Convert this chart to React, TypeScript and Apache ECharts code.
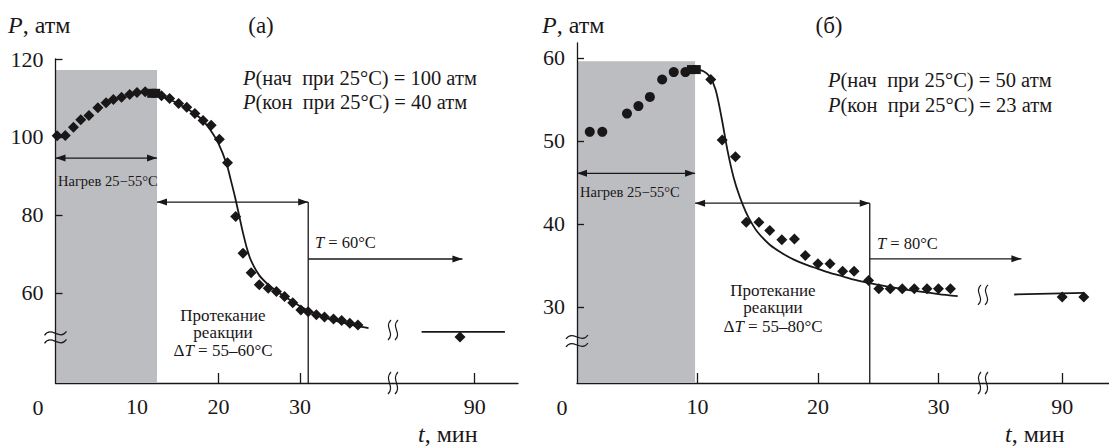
import React, { useEffect, useRef } from 'react';
import * as echarts from 'echarts';

const FONT = 'Liberation Serif';
const INK = '#1a1718';
const GRAY = '#bcbdc1';

// ---------- Panel (а): P(nach) = 100 атм, T = 60°C ----------
const aHeatT = [0.2, 1.2, 2.2, 3.1, 4.1, 5.2, 6.2, 7.1, 8.1, 9.1, 10.0, 11.0];
const aHeatP = [100.3, 100.4, 102.5, 104.4, 105.5, 107.5, 108.8, 109.6, 110.2, 110.9, 111.4, 111.6];
const aSquareT = [11.8, 12.3];
const aSquareP = [111.2, 111.2];
const aReactT = [13.0, 14.0, 15.1, 16.1, 17.1, 18.1, 19.1, 20.1, 21.1, 22.1, 23.0, 24.0, 25.0, 26.1, 27.1, 28.1, 29.1, 30.1, 31.0, 32.0, 33.0, 34.1, 35.1, 36.1, 37.1];
const aReactP = [110.6, 109.9, 108.6, 107.6, 106.0, 104.2, 103.0, 99.4, 93.4, 79.6, 70.2, 65.2, 62.1, 61.2, 60.4, 59.1, 57.5, 55.6, 55.2, 54.4, 53.8, 53.3, 52.9, 52.2, 51.8];
const aLateT = [88.2];
const aLateP = [48.7];
const aFitT = [12, 13, 14, 15, 16, 17, 18, 19, 20, 21, 21.5, 22, 22.5, 23, 23.5, 24, 25, 26, 27, 28, 29, 30, 31, 32, 33, 34, 35, 36, 37, 38.4];
const aFitP = [111.2, 110.5, 109.6, 108.6, 107.4, 106.1, 104.4, 101.8, 98.3, 93.0, 89.0, 84.8, 80.1, 75.4, 71.3, 68.2, 64.5, 62.3, 60.6, 59.2, 57.9, 56.6, 55.5, 54.6, 53.8, 53.1, 52.5, 52.0, 51.5, 51.0];
const aFitLateT = [83.5, 93.7];
const aFitLateP = [50.0, 50.0];
const aYTicks = [60, 80, 100, 120];
const aXTicks = [10, 20, 30];
const aXTicks2 = [90];
const aHeatEnd = 12.45;
const aHeatTop = 117.2;
const aReactEnd = 31.0;
const aHeatArrowP = 94.6;
const aReactArrowP = 83.3;
const aTArrowP = 68.7;
const aTArrowEndT = 88.5;
const aYBreakP = 48.6;
const aDataBreakP = 50.5;

// ---------- Panel (б): P(nach) = 50 атм, T = 80°C ----------
const bHeatT = [1.06, 2.1, 4.15, 5.1, 6.05, 7.07, 8.03, 9.0];
const bHeatP = [51.1, 51.1, 53.3, 54.2, 55.3, 57.4, 58.3, 58.3];
const bSquareT = [9.5, 9.9];
const bSquareP = [58.6, 58.6];
const bReactT = [11.1, 12.05, 13.15, 14.05, 15.1, 16.0, 17.0, 18.05, 18.95, 20.0, 21.0, 22.05, 23.0, 24.2, 25.05, 26.0, 27.0, 28.0, 29.05, 30.0, 31.0];
const bReactP = [57.4, 50.1, 48.1, 40.2, 40.2, 39.2, 38.1, 38.2, 36.2, 35.2, 35.2, 34.3, 34.3, 33.2, 32.2, 32.2, 32.2, 32.2, 32.2, 32.2, 32.2];
const bLateT = [90.0, 91.8];
const bLateP = [31.2, 31.2];
const bFitT = [10, 10.5, 11, 11.5, 12, 12.5, 13, 13.5, 14, 14.5, 15, 16, 17, 18, 19, 20, 21, 22, 23, 24, 25, 26, 27, 28, 29, 30, 31.6];
const bFitP = [58.6, 58.4, 57.8, 56.2, 52.8, 48.8, 45.6, 43.3, 41.5, 40.1, 39.0, 37.5, 36.5, 35.7, 35.1, 34.6, 34.1, 33.7, 33.3, 32.95, 32.65, 32.4, 32.15, 31.95, 31.75, 31.55, 31.3];
const bFitLateT = [86.0, 91.8];
const bFitLateP = [31.5, 31.7];
const bYTicks = [30, 40, 50, 60];
const bXTicks = [10, 20, 30];
const bXTicks2 = [90];
const bHeatEnd = 9.8;
const bHeatTop = 59.6;
const bReactEnd = 24.3;
const bHeatArrowP = 46.1;
const bReactArrowP = 42.5;
const bTArrowP = 35.8;
const bTArrowEndT = 86.6;
const bYBreakP = 25.9;
const bDataBreakP = 31.45;

// axis ranges
const aYMin = 36.9, aYMax = 120;
const bYMin = 20.84, bYMax = 61.8;

const zip = (t: number[], p: number[]) => t.map((v, i) => [v, p[i]]);

export default function App() {
  const ref = useRef<HTMLDivElement>(null);
  useEffect(() => {
    const chart = echarts.init(ref.current!, null, { renderer: 'svg' });
    const xAxis = (grid: number, min: number, max: number, ticks: number[]) => ({
      type: 'value', gridIndex: grid, min, max,
      axisLine: { show: true, lineStyle: { color: INK, width: 1.3 } },
      axisTick: { show: true, inside: true, length: 10, lineStyle: { color: INK, width: 1.3 }, customValues: ticks },
      axisLabel: { fontFamily: FONT, fontSize: 22, color: INK, margin: 12, customValues: ticks },
      splitLine: { show: false },
    });
    const yAxis = (grid: number, min: number, max: number, ticks: number[], show: boolean) => ({
      type: 'value', gridIndex: grid, min, max, show, z: 5,
      axisLine: { show: true, lineStyle: { color: INK, width: 1.3 } },
      axisTick: { show: true, inside: true, length: 7, lineStyle: { color: INK, width: 1.3 }, customValues: ticks },
      axisLabel: { fontFamily: FONT, fontSize: 22, color: INK, margin: 12, customValues: ticks },
      splitLine: { show: false },
    });
    const scatter = (xi: number, data: number[][], symbol: string, size: number) => ({
      type: 'scatter', xAxisIndex: xi, yAxisIndex: xi, data, symbol, symbolSize: size,
      itemStyle: { color: INK, opacity: 1 }, z: 4, silent: true,
    });
    const fit = (xi: number, data: number[][]) => ({
      type: 'line', xAxisIndex: xi, yAxisIndex: xi, data, showSymbol: false, symbol: 'none',
      smooth: 0.3, lineStyle: { color: INK, width: 1.8 }, z: 3, silent: true,
    });
    const area = (xi: number, x0: number, y0: number, x1: number, y1: number) => ({
      type: 'line', xAxisIndex: xi, yAxisIndex: xi, data: [], z: 1, silent: true,
      markArea: { silent: true, itemStyle: { color: GRAY, opacity: 1 }, data: [[{ coord: [x0, y0] }, { coord: [x1, y1] }]] },
    });

    chart.setOption({
      animation: false,
      grid: [
        { left: 55.5, top: 59, width: 337.5, height: 324 },
        { left: 393, top: 59, width: 125, height: 324 },
        { left: 577, top: 43, width: 406, height: 340 },
        { left: 983, top: 43, width: 126, height: 340 },
      ],
      xAxis: [
        xAxis(0, 0, 41.4, aXTicks),
        xAxis(1, 80, 95.3, aXTicks2),
        xAxis(2, 0, 33.7, bXTicks),
        xAxis(3, 83.4, 93.9, bXTicks2),
      ],
      yAxis: [
        yAxis(0, aYMin, aYMax, aYTicks, true),
        yAxis(1, aYMin, aYMax, aYTicks, false),
        yAxis(2, bYMin, bYMax, bYTicks, true),
        yAxis(3, bYMin, bYMax, bYTicks, false),
      ],
      series: [
        area(0, 0, aYMin, aHeatEnd, aHeatTop),
        fit(0, zip(aFitT, aFitP)),
        fit(1, zip(aFitLateT, aFitLateP)),
        scatter(0, zip(aHeatT, aHeatP), 'diamond', 11),
        scatter(0, zip(aSquareT, aSquareP), 'rect', 9),
        scatter(0, zip(aReactT, aReactP), 'diamond', 11),
        scatter(1, zip(aLateT, aLateP), 'diamond', 11),
        area(2, 0, bYMin, bHeatEnd, bHeatTop),
        fit(2, zip(bFitT, bFitP)),
        fit(3, zip(bFitLateT, bFitLateP)),
        scatter(2, zip(bHeatT, bHeatP), 'circle', 10),
        scatter(2, zip(bSquareT, bSquareP), 'rect', 9),
        scatter(2, zip(bReactT, bReactP), 'diamond', 11),
        scatter(3, zip(bLateT, bLateP), 'diamond', 11),
      ],
    });

    const px = (g: number, t: number, p: number) => chart.convertToPixel({ gridIndex: g } as any, [t, p]) as number[];
    const els: any[] = [];
    const seg = (a: number[], b: number[]) => {
      els.push({ type: 'line', z: 10, shape: { x1: a[0], y1: a[1], x2: b[0], y2: b[1] }, style: { stroke: INK, lineWidth: 1.3 } });
    };
    const head = (x: number, y: number, dir: number) => {
      els.push({ type: 'polygon', z: 10, shape: { points: [[x, y], [x - dir * 10, y - 3.5], [x - dir * 10, y + 3.5]] }, style: { fill: INK } });
    };
    const hArrow = (a: number[], b: number[], startHead: boolean, endHead: boolean) => {
      seg(a, b);
      if (startHead) head(a[0], a[1], -1);
      if (endHead) head(b[0], b[1], 1);
    };
    const vSquiggle = (c: number[], h: number) => {
      for (const dx of [-3.5, 3.5]) {
        const x = c[0] + dx, y = c[1];
        els.push({ type: 'bezierCurve', z: 10, shape: { x1: x + 1.5, y1: y - h, cpx1: x - 6, cpy1: y - h * 0.3, cpx2: x + 6, cpy2: y + h * 0.3, x2: x - 1.5, y2: y + h }, style: { stroke: INK, lineWidth: 1.2, fill: 'none' } });
      }
    };
    const hSquiggle = (c: number[]) => {
      for (const dy of [-4, 4]) {
        const x = c[0], y = c[1] + dy;
        els.push({ type: 'bezierCurve', z: 10, shape: { x1: x - 11, y1: y + 2, cpx1: x - 4, cpy1: y - 8, cpx2: x + 4, cpy2: y + 8, x2: x + 11, y2: y - 2 }, style: { stroke: INK, lineWidth: 1.2, fill: 'none' } });
      }
    };
    const text = (x: number, y: number, t: string, size: number, align = 'left') => {
      const style: any = { text: t, fill: INK, font: `${size}px ${FONT}`, fontFamily: FONT, fontSize: size, align, verticalAlign: 'middle' };
      if (t.indexOf('{i|') >= 0) style.rich = { i: { fontStyle: 'italic', fontFamily: FONT, fontSize: size, fill: INK } };
      els.push({ type: 'text', z: 10, x, y, style });
    };

    // Panel (а) annotations
    hArrow(px(0, 0, aHeatArrowP), px(0, aHeatEnd, aHeatArrowP), true, true);
    hArrow(px(0, aHeatEnd, aReactArrowP), px(0, aReactEnd, aReactArrowP), true, true);
    seg(px(0, aReactEnd, aYMin), px(0, aReactEnd, aReactArrowP));
    hArrow(px(0, aReactEnd, aTArrowP), px(1, aTArrowEndT, aTArrowP), false, true);
    hSquiggle(px(0, 0, aYBreakP));
    vSquiggle(px(1, 80, aYMin), 11);
    vSquiggle(px(1, 80, aDataBreakP), 10);

    // Panel (б) annotations
    hArrow(px(2, 0, bHeatArrowP), px(2, bHeatEnd, bHeatArrowP), true, true);
    hArrow(px(2, bHeatEnd, bReactArrowP), px(2, bReactEnd, bReactArrowP), true, true);
    seg(px(2, bReactEnd, bYMin), px(2, bReactEnd, bReactArrowP));
    hArrow(px(2, bReactEnd, bTArrowP), px(3, bTArrowEndT, bTArrowP), false, true);
    hSquiggle(px(2, 0, bYBreakP));
    vSquiggle(px(3, 83.4, bYMin), 11);
    vSquiggle(px(3, 83.4, bDataBreakP), 10);

    // Texts (а)
    text(8, 25, '{i|P}, атм', 24);
    text(261, 25, '(а)', 23, 'center');
    text(243, 78, '{i|P}(нач  при 25°C) = 100 атм', 20.5);
    text(243, 102, '{i|P}(кон  при 25°C) = 40 атм', 20.5);
    text(58, 181, 'Нагрев 25−55°C', 14.5);
    text(223, 315, 'Протекание', 17, 'center');
    text(223, 332, 'реакции', 17, 'center');
    text(223, 350, 'Δ{i|T} = 55–60°C', 17, 'center');
    text(315, 242, '{i|T} = 60°C', 16.5);
    text(38, 407, '0', 22, 'center');
    text(418, 434, '{i|t}, мин', 24);

    // Texts (б)
    text(542, 25, '{i|P}, атм', 24);
    text(829, 25, '(б)', 23, 'center');
    text(828, 80, '{i|P}(нач  при 25°C) = 50 атм', 20.5);
    text(828, 105, '{i|P}(кон  при 25°C) = 23 атм', 20.5);
    text(580, 192, 'Нагрев 25−55°C', 14.5);
    text(773, 290, 'Протекание', 17, 'center');
    text(773, 307, 'реакции', 17, 'center');
    text(773, 326, 'Δ{i|T} = 55–80°C', 17, 'center');
    text(877, 243, '{i|T} = 80°C', 16.5);
    text(562, 407, '0', 22, 'center');
    text(1005, 434, '{i|t}, мин', 24);

    chart.setOption({ graphic: els });
    return () => chart.dispose();
  }, []);
  return <div ref={ref} style={{ position: 'fixed', left: 0, top: 0, width: 1109, height: 447, background: '#fff' }} />;
}
